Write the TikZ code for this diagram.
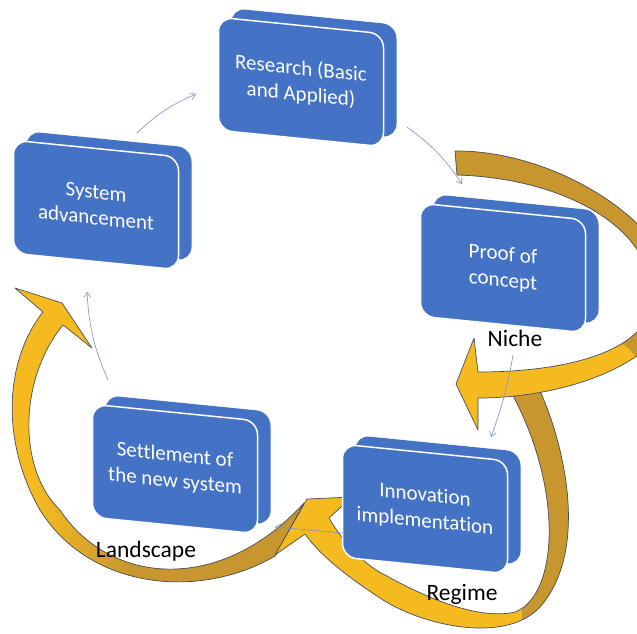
\documentclass[tikz,border=0pt]{standalone}
\usepackage{fontspec}
\setmainfont{Carlito}[Ligatures=NoCommon]
\usetikzlibrary{arrows.meta}
\definecolor{boxblue}{RGB}{68,114,196}
\definecolor{ltgold}{RGB}{245,186,32}
\definecolor{dkgold}{RGB}{199,150,46}
\definecolor{conncol}{RGB}{125,143,196}
\definecolor{edgecol}{RGB}{70,78,92}
\begin{document}
\begin{tikzpicture}[x=1pt,y=-1pt,
  boxfront/.style={rectangle, rounded corners=14pt, fill=boxblue, draw=white, line width=1.5pt,
    minimum width=165pt, minimum height=113pt, inner sep=0pt, text=white, align=center,
    font=\fontsize{21}{26}\selectfont, yslant=-0.1},
  boxback/.style={rectangle, rounded corners=14pt, fill=boxblue, minimum width=165pt,
    minimum height=113pt, inner sep=0pt, yslant=-0.1},
  lbl/.style={anchor=base, font=\fontsize{23.5}{28}\selectfont, text=black, inner sep=0pt},
  conn/.style={draw=conncol, line width=0.6pt, -{Straight Barb[length=5pt,width=7pt]}},
  bigarrow/.style={draw=edgecol, line width=0.7pt, line join=round}
]
\useasboundingbox (0,0) rectangle (637,633);
\fill[white] (0,0) rectangle (637,633);
\clip (0,0) rectangle (637,633);

% Landscape arrow
\path[save path=\landp] (275,556) .. controls (200,600) and (90,590) .. (40,510)
  .. controls (0,440) and (5,360) .. (43,312) -- (15,288) -- (62,303) -- (92,348) -- (63,325)
  .. controls (18,380) and (18,470) .. (60,510) .. controls (110,585) and (220,595) .. (304,503) -- cycle;
\fill[ltgold, use path=\landp];
\begin{scope}
  \path[clip, use path=\landp];
  \shade[left color=ltgold, right color=dkgold] (35,470) rectangle (130,615);
  \fill[dkgold] (129.5,470) rectangle (320,615);
\end{scope}
\draw[bigarrow, use path=\landp];

% Regime arrow
\path[save path=\regp] (534,378) .. controls (565,440) and (590,550) .. (540,607)
  .. controls (505,645) and (420,625) .. (380,598) .. controls (345,575) and (320,555) .. (305,534)
  -- (275,555) -- (307,499) -- (352,497) -- (329,518)
  .. controls (345,545) and (365,565) .. (385,575) .. controls (430,600) and (480,620) .. (515,612)
  .. controls (560,595) and (565,480) .. (503,378) -- cycle;
\fill[ltgold, use path=\regp];
\begin{scope}
  \path[clip, use path=\regp];
  \fill[dkgold] (490,370) -- (610,370) -- (610,640) -- (522,640) -- (522,560) -- (500,480) -- cycle;
\end{scope}
\draw[bigarrow, use path=\regp];

% Niche arrow
\path[save path=\nichep] (455,151) .. controls (560,150) and (680,230) .. (675,300)
  .. controls (670,360) and (570,398) .. (478,398) -- (478,430) -- (456,384) -- (474,338) -- (478,372)
  .. controls (570,372) and (652,350) .. (652,297) .. controls (652,225) and (560,178) .. (457,175) -- cycle;
\fill[ltgold, use path=\nichep];
\begin{scope}
  \path[clip, use path=\nichep];
  \fill[dkgold] (440,130) -- (700,130) -- (700,420) -- (625,345) -- (440,300) -- cycle;
\end{scope}
\draw[bigarrow, use path=\nichep];

% boxes
\node[boxback] (resb) at (314,73) {};
\node[boxfront] (res) at (301,82) {Research (Basic\\and Applied)};
\node[boxback] (sysb) at (109,196) {};
\node[boxfront] (sys) at (96,205) {System\\advancement};
\node[boxback] (proofb) at (516,259) {};
\node[boxfront] (proof) at (503,268) {Proof of\\concept};
\node[boxback] (setb) at (188,460) {};
\node[boxfront] (set) at (175,469) {Settlement of\\the new system};
\node[boxback] (innb) at (438,500) {};
\node[boxfront] (inn) at (425,509) {Innovation\\implementation};

% connectors
\coordinate (a1s) at (137,133); \coordinate (a1e) at (196,94);
\coordinate (a2s) at (407,127); \coordinate (a2e) at (462,184);
\coordinate (a3s) at (513,355); \coordinate (a3e) at (491,437);
\coordinate (a4s) at (343,533); \coordinate (a4e) at (275,527);
\coordinate (a5s) at (108,380); \coordinate (a5e) at (87,292);
\draw[conn] (a1s) to[bend left=10] (a1e);
\draw[conn] (a2s) to[bend left=10] (a2e);
\draw[conn] (a3s) to[bend left=5] (a3e);
\draw[conn] (a4s) -- (a4e);
\draw[conn] (a5s) to[bend left=10] (a5e);

% labels
\node[lbl] (niche) at (515,346) {Niche};
\node[lbl] (regime) at (462,600) {Regime};
\node[lbl] (land) at (146,557) {Landscape};
\end{tikzpicture}
\end{document}
